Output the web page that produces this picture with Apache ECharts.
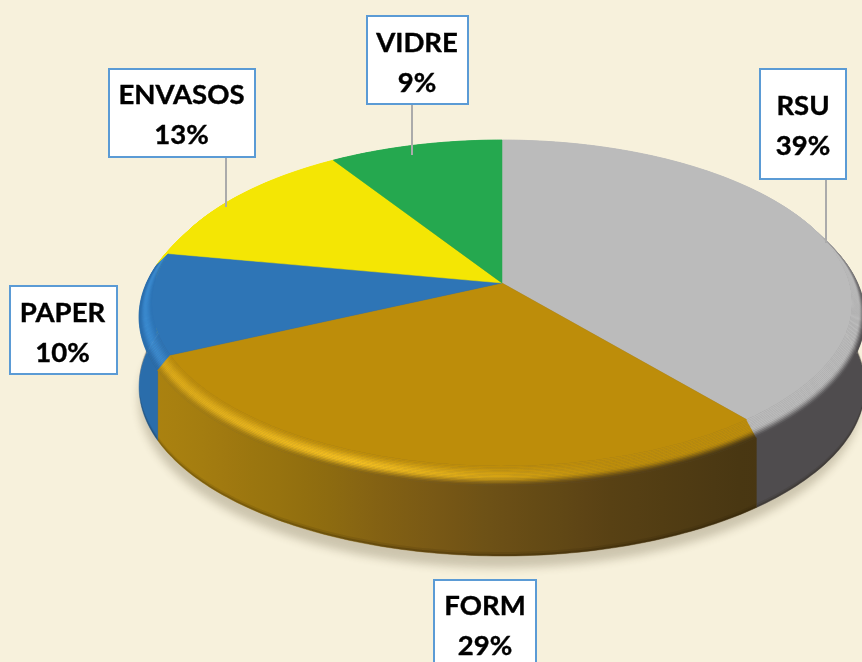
<!DOCTYPE html>
<html>
<head>
<meta charset="utf-8">
<style>html,body{margin:0;padding:0;background:#F7F1DC}#c{width:862px;height:662px}</style>
<script src="https://cdn.jsdelivr.net/npm/echarts@6/dist/echarts.min.js"></script>
</head>
<body>
<div id="c"></div>
<script>
const categories = ['RSU', 'FORM', 'PAPER', 'ENVASOS', 'VIDRE'];
const values = [39, 29, 10, 13, 9];
const faceColors = ['#BBBBBB', '#BD8D0A', '#2E75B6', '#F4E604', '#25A84F'];

// layout of the tilted pie
const G = {cx: 502, cy: 283, a: 360, b: 166.3, k: 0.127, rIn: 0.965, dz: 12.5, depth: 70};
const boxes = [
  {x: 760, y: 69, w: 86, h: 110, tx: 803, ty: 126, line: [826, 179, 243]},
  {x: 434, y: 580, w: 102, h: 90, tx: 485, ty: 626},
  {x: 10, y: 286, w: 107, h: 88, tx: 62.5, ty: 333},
  {x: 109, y: 69, w: 146, h: 88, tx: 181.5, ty: 115, line: [226, 157, 207]},
  {x: 367, y: 16, w: 101, h: 88, tx: 417, ty: 63, line: [412, 104, 155]}
];
const total = values.reduce((s, v) => s + v, 0);
const starts = [];
values.reduce((s, v, i) => (starts[i] = s, s + v), 0);
const ang = v => v / total * 360;

function proj(deg, r, z) {
  const t = deg * Math.PI / 180, u = Math.sin(t), v = -Math.cos(t);
  const d = 1 - G.k * r * v;
  return [G.cx + G.a * r * u / d, G.cy + G.b * r * v / d + z];
}
function arc(a0, a1, r, z) {
  const n = Math.max(2, Math.ceil(a1 - a0)), pts = [];
  for (let i = 0; i <= n; i++) pts.push(proj(a0 + (a1 - a0) * i / n, r, z));
  return pts;
}
const hex = c => [1, 3, 5].map(i => parseInt(c.substr(i, 2), 16));
function mix(c1, c2, t) {
  const a = hex(c1), b = hex(c2);
  return '#' + a.map((x, i) => Math.round(x + (b[i] - x) * t).toString(16).padStart(2, '0')).join('');
}
const smooth = t => { t = Math.min(1, Math.max(0, t)); return t * t * (3 - 2 * t); };
const formSide = [[160, '#AB8210'], [300, '#93700F'], [400, '#7F5E14'], [500, '#6B4F16'], [620, '#574014'], [752, '#483612']];
const X0 = 150, X1 = 765;
function formSideAt(x) {
  for (let j = 1; j < formSide.length; j++)
    if (x <= formSide[j][0]) return mix(formSide[j - 1][1], formSide[j][1], Math.max(0, (x - formSide[j - 1][0]) / (formSide[j][0] - formSide[j - 1][0])));
  return formSide[formSide.length - 1][1];
}
const hGrad = fn => {
  const colorStops = [];
  for (let s = 0; s <= 24; s++) colorStops.push({offset: s / 24, color: fn(X0 + (X1 - X0) * s / 24)});
  return {type: 'linear', x: X0, y: 0, x2: X1, y2: 0, global: true, colorStops};
};
function bevel(base, hc, hi, side, dark, t) {
  const top = mix(base, hc, hi * smooth(t / 0.55));
  return t < 0.55 ? top : mix(top, side, dark * smooth((t - 0.55) / 0.45));
}
function sideFill(i) {
  return i === 1 ? hGrad(formSideAt) : i === 0 ? '#4F4C4E' : i === 2 ? '#2A6DAB' : faceColors[i];
}
function rimFill(i, t) {
  const base = faceColors[i];
  if (i === 1) return hGrad(x => bevel(base, '#F5C020',
    x < 350 ? 0.55 + 0.45 * Math.max(0, (x - 160) / 190) : Math.max(0, 1 - (x - 350) / 260),
    formSideAt(x), 1, t));
  if (i === 2) return bevel(base, '#3B8ACF', 1, '#2A6DAB', 1, t);
  if (i === 0) return {type: 'linear', x: 0, y: 215, x2: 0, y2: 315, global: true, colorStops: [
    {offset: 0, color: bevel(base, base, 0, '#4F4C4E', 0.08, t)},
    {offset: 1, color: bevel(base, base, 0, '#4F4C4E', 1, t)}]};
  return base;
}

function sides(params, api) {
  const i = api.value(0), a0 = starts[i] * 3.6, a1 = a0 + ang(values[i]);
  const zT = G.dz, zB = G.dz + G.depth;
  const fill = sideFill(i);
  const ch = [{type: 'polygon', shape: {points: arc(a0, a1, 1, zT).concat(arc(a0, a1, 1, zB).reverse())},
    style: {fill, stroke: fill, lineWidth: 0.5}}];
  if (i < 3) {
    [[4, 0.1], [2, 0.2]].forEach(([h, al]) => {
      const top = arc(a0, a1, 1, zB - h), bot = arc(a0, a1, 1, zB).reverse();
      ch.push({type: 'polygon', shape: {points: top.concat(bot)}, style: {fill: 'rgba(30,20,0,' + al + ')'}});
    });
  }
  return {type: 'group', children: ch};
}
function rims(params, api) {
  const i = api.value(0), a0 = starts[i] * 3.6, a1 = a0 + ang(values[i]);
  const ch = [], bands = 14;
  const R = t => G.rIn + (1 - G.rIn) * t, Z = t => G.dz * t;
  for (let k = 0; k < bands; k++) {
    const t0 = k / bands, t1 = (k + 1) / bands;
    const fill = rimFill(i, (t0 + t1) / 2);
    ch.push({type: 'polygon', shape: {points: arc(a0, a1, R(t0), Z(t0)).concat(arc(a0, a1, R(t1), Z(t1)).reverse())},
      style: {fill, stroke: fill, lineWidth: 0.5}});
  }
  return {type: 'group', children: ch};
}
function faces(params, api) {
  const i = api.value(0), a0 = starts[i] * 3.6, a1 = a0 + ang(values[i]);
  return {type: 'polygon', shape: {points: [[G.cx, G.cy]].concat(arc(a0, a1, G.rIn, 0))},
    style: {fill: faceColors[i], stroke: faceColors[i], lineWidth: 0.5}};
}
function labels(params, api) {
  const i = api.value(0), b = boxes[i], ch = [];
  if (b.line) ch.push({type: 'line', shape: {x1: b.line[0], y1: b.line[1], x2: b.line[0], y2: b.line[2]},
    style: {stroke: '#ABABAB', lineWidth: 2}});
  ch.push({type: 'rect', shape: {x: b.x, y: b.y, width: b.w, height: b.h},
    style: {fill: '#FFFFFF', stroke: '#5B9BD5', lineWidth: 2}});
  ch.push({type: 'text', style: {x: b.tx, y: b.ty, text: categories[i] + '\n' + Math.round(values[i] / total * 100) + '%',
    align: 'center', verticalAlign: 'middle', fontFamily: 'Lato', fontWeight: 'bold', fontSize: 27.5, lineHeight: 40,
    fill: '#000000', stroke: '#000000', lineWidth: 0.4}});
  return {type: 'group', children: ch};
}
const data = values.map((v, i) => [i, v]);
const mk = (name, fn, d) => ({type: 'custom', name, coordinateSystem: 'none', renderItem: fn, data: d || data, silent: true, animation: false});
const shadow = () => ({type: 'polygon', shape: {points: arc(0, 360, 0.995, G.dz + G.depth - 1)},
  style: {fill: '#4F4C4E', shadowBlur: 8, shadowOffsetY: 14, shadowOffsetX: -2, shadowColor: 'rgba(70,60,30,0.24)'}});
const chart = echarts.init(document.getElementById('c'), null, {renderer: 'canvas'});
chart.setOption({
  backgroundColor: '#F7F1DC',
  animation: false,
  series: [
    mk('shadow', shadow, [[0]]),
    mk('side', sides),
    mk('rim', rims, data.slice().reverse()),
    mk('face', faces),
    mk('labels', labels)
  ]
});
</script>
</body>
</html>
